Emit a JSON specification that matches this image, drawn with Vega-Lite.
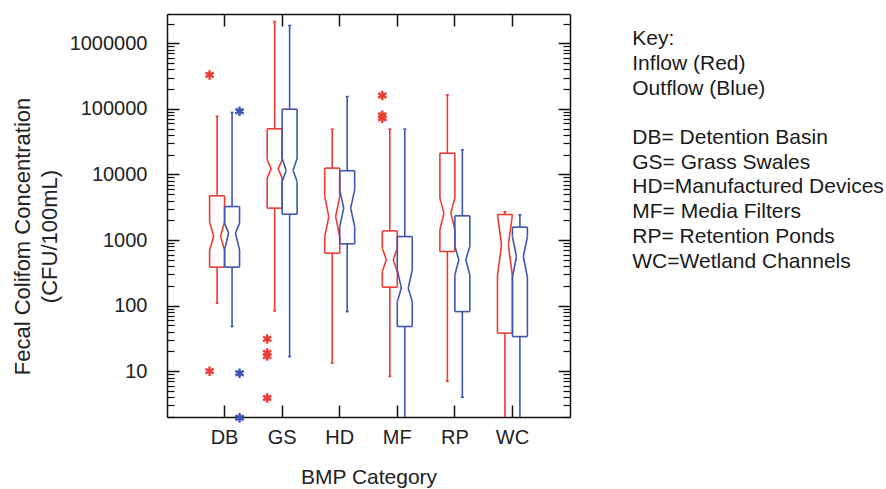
{
  "$schema": "https://vega.github.io/schema/vega-lite/v6.json",
  "autosize": "none",
  "width": 403,
  "height": 403,
  "padding": {"left": 167, "top": 14, "right": 316, "bottom": 72},
  "background": "white",
  "config": {"view": {"stroke": null}, "font": "Liberation Sans"},
  "title": {
    "text": ["Key:", "Inflow (Red)", "Outflow (Blue)", "\u200b", "DB= Detention Basin", "GS= Grass Swales", "HD=Manufactured Devices", "MF= Media Filters", "RP= Retention Ponds", "WC=Wetland Channels"],
    "orient": "right", "anchor": "start", "angle": 0, "align": "left", "baseline": "top",
    "offset": 62, "dx": -252, "dy": 15, "font": "Liberation Sans", "fontSize": 21, "fontWeight": "normal", "color": "#1a1a1a", "lineHeight": 24.7
  },
  "datasets": {
    "boxes": [
      {"cat": "DB", "flow": "Inflow", "lo": 109, "q1": 386, "nlo": 700, "med": 1130, "nhi": 1900, "q3": 4720, "hi": 77000},
      {"cat": "DB", "flow": "Outflow", "lo": 48, "q1": 386, "nlo": 708, "med": 1275, "nhi": 1810, "q3": 3240, "hi": 88000},
      {"cat": "GS", "flow": "Inflow", "lo": 83, "q1": 3065, "nlo": 8800, "med": 12200, "nhi": 16700, "q3": 49700, "hi": 2150000},
      {"cat": "GS", "flow": "Outflow", "lo": 16.7, "q1": 2480, "nlo": 7800, "med": 11500, "nhi": 17700, "q3": 99000, "hi": 1870000},
      {"cat": "HD", "flow": "Inflow", "lo": 13.3, "q1": 631, "nlo": 1130, "med": 2280, "nhi": 4600, "q3": 12500, "hi": 49000},
      {"cat": "HD", "flow": "Outflow", "lo": 81, "q1": 875, "nlo": 1607, "med": 3060, "nhi": 5830, "q3": 11400, "hi": 154000},
      {"cat": "MF", "flow": "Inflow", "lo": 8.3, "q1": 191, "nlo": 331, "med": 499, "nhi": 752, "q3": 1381, "hi": 49000},
      {"cat": "MF", "flow": "Outflow", "lo": 1, "q1": 48, "nlo": 115, "med": 185, "nhi": 351, "q3": 1130, "hi": 49000},
      {"cat": "RP", "flow": "Inflow", "lo": 7, "q1": 668, "nlo": 1432, "med": 2573, "nhi": 4350, "q3": 21100, "hi": 164000},
      {"cat": "RP", "flow": "Outflow", "lo": 4, "q1": 81, "nlo": 295, "med": 499, "nhi": 797, "q3": 2340, "hi": 23800},
      {"cat": "WC", "flow": "Inflow", "lo": 1, "q1": 38, "nlo": 280, "med": 850, "nhi": 2450, "q3": 2450, "hi": 2700},
      {"cat": "WC", "flow": "Outflow", "lo": 1, "q1": 33.7, "nlo": 272, "med": 561, "nhi": 1130, "q3": 1574, "hi": 2423}
    ],
    "outliers": [
      {"cat": "DB", "flow": "Inflow", "value": 330000},
      {"cat": "DB", "flow": "Inflow", "value": 10},
      {"cat": "DB", "flow": "Outflow", "value": 92000},
      {"cat": "DB", "flow": "Outflow", "value": 9.3},
      {"cat": "DB", "flow": "Outflow", "value": 1.95},
      {"cat": "GS", "flow": "Inflow", "value": 31},
      {"cat": "GS", "flow": "Inflow", "value": 19},
      {"cat": "GS", "flow": "Inflow", "value": 17},
      {"cat": "GS", "flow": "Inflow", "value": 3.9},
      {"cat": "MF", "flow": "Inflow", "value": 160000},
      {"cat": "MF", "flow": "Inflow", "value": 80000},
      {"cat": "MF", "flow": "Inflow", "value": 72000}
    ]
  },
  "data": {"name": "boxes"},
  "resolve": {"axis": {"x": "independent", "y": "independent"}},
  "layer": [
    {
      "transform": [{"filter": "datum.flow === 'Inflow'"}],
      "mark": {"type": "rule", "color": "#ee3b33", "strokeWidth": 1.6, "clip": true},
      "encoding": {
        "x": {"field": "cat", "type": "nominal", "bandPosition": 0.25,
          "scale": {"domain": ["DB", "GS", "HD", "MF", "RP", "WC"], "paddingInner": 0.48, "paddingOuter": 0.74},
          "axis": {"orient": "bottom", "title": "BMP Category", "bandPosition": 0.5, "tickSize": -12, "tickWidth": 1.5, "tickColor": "#111", "domainColor": "#111", "domainWidth": 1.5, "labelAngle": 0, "labelFont": "Liberation Sans", "labelFontSize": 20, "labelColor": "#222", "labelPadding": 22, "titleFont": "Liberation Sans", "titleFontSize": 21, "titleFontWeight": "normal", "titleColor": "#222", "titlePadding": 19, "grid": false}},
        "y": {"field": "lo", "type": "quantitative",
          "scale": {"type": "log", "domain": [2, 2800000], "nice": false},
          "axis": {"orient": "left", "values": [10, 100, 1000, 10000, 100000, 1000000], "format": "d", "tickSize": -12, "tickWidth": 1.5, "tickColor": "#111", "domainColor": "#111", "domainWidth": 1.5, "labelFont": "Liberation Sans", "labelFontSize": 20, "labelColor": "#222", "labelPadding": 32, "labelFlush": false, "labelOverlap": false, "grid": false,
            "title": ["Fecal Colifom Concentration", "(CFU/100mL)"], "titleFont": "Liberation Sans", "titleFontSize": 22, "titleFontWeight": "normal", "titleColor": "#222", "titlePadding": 8, "titleLineHeight": 27, "titleY": 222}},
        "y2": {"field": "q1"}
      }
    },
    {
      "transform": [{"filter": "datum.flow === 'Outflow'"}],
      "mark": {"type": "rule", "color": "#3f55b0", "strokeWidth": 1.6, "clip": true},
      "encoding": {
        "x": {"field": "cat", "type": "nominal", "bandPosition": 0.75,
          "axis": {"orient": "top", "title": null, "labels": false, "bandPosition": 0.5, "tickSize": -12, "tickWidth": 1.5, "tickColor": "#111", "domainColor": "#111", "domainWidth": 1.5, "grid": false}},
        "y": {"field": "lo", "type": "quantitative",
          "axis": {"orient": "left", "title": null, "labels": false, "domain": false, "grid": false, "tickSize": -7, "tickWidth": 1.2, "tickColor": "#111",
            "values": [2, 3, 4, 5, 6, 7, 8, 9, 20, 30, 40, 50, 60, 70, 80, 90, 200, 300, 400, 500, 600, 700, 800, 900, 2000, 3000, 4000, 5000, 6000, 7000, 8000, 9000, 20000, 30000, 40000, 50000, 60000, 70000, 80000, 90000, 200000, 300000, 400000, 500000, 600000, 700000, 800000, 900000, 2000000]}},
        "y2": {"field": "q1"}
      }
    },
    {
      "transform": [{"filter": "datum.flow === 'Inflow'"}],
      "mark": {"type": "rule", "color": "#ee3b33", "strokeWidth": 1.6, "clip": true},
      "encoding": {
        "x": {"field": "cat", "type": "nominal", "bandPosition": 0.25, "axis": null},
        "y": {"field": "q3", "type": "quantitative",
          "axis": {"orient": "right", "title": null, "labels": false, "values": [10, 100, 1000, 10000, 100000, 1000000], "tickSize": -12, "tickWidth": 1.5, "tickColor": "#111", "domainColor": "#111", "domainWidth": 1.5, "grid": false}},
        "y2": {"field": "hi"}
      }
    },
    {
      "transform": [{"filter": "datum.flow === 'Outflow'"}],
      "mark": {"type": "rule", "color": "#3f55b0", "strokeWidth": 1.6, "clip": true},
      "encoding": {
        "x": {"field": "cat", "type": "nominal", "bandPosition": 0.75, "axis": null},
        "y": {"field": "q3", "type": "quantitative",
          "axis": {"orient": "right", "title": null, "labels": false, "domain": false, "grid": false, "tickSize": -7, "tickWidth": 1.2, "tickColor": "#111",
            "values": [2, 3, 4, 5, 6, 7, 8, 9, 20, 30, 40, 50, 60, 70, 80, 90, 200, 300, 400, 500, 600, 700, 800, 900, 2000, 3000, 4000, 5000, 6000, 7000, 8000, 9000, 20000, 30000, 40000, 50000, 60000, 70000, 80000, 90000, 200000, 300000, 400000, 500000, 600000, 700000, 800000, 900000, 2000000]}},
        "y2": {"field": "hi"}
      }
    },
    {
      "transform": [{"filter": "datum.flow === 'Inflow'"}, {"fold": ["lo", "hi"], "as": ["k", "v"]}],
      "mark": {"type": "rule", "color": "#ee3b33", "strokeWidth": 1.6, "clip": true},
      "encoding": {
        "x": {"field": "cat", "type": "nominal", "bandPosition": 0.2, "axis": null},
        "x2": {"field": "cat", "bandPosition": 0.3},
        "y": {"field": "v", "type": "quantitative", "axis": null}
      }
    },
    {
      "transform": [{"filter": "datum.flow === 'Outflow'"}, {"fold": ["lo", "hi"], "as": ["k", "v"]}],
      "mark": {"type": "rule", "color": "#3f55b0", "strokeWidth": 1.6, "clip": true},
      "encoding": {
        "x": {"field": "cat", "type": "nominal", "bandPosition": 0.7, "axis": null},
        "x2": {"field": "cat", "bandPosition": 0.8},
        "y": {"field": "v", "type": "quantitative", "axis": null}
      }
    },
    {
      "transform": [{"filter": "datum.flow === 'Inflow'"}, {"fold": ["q1", "q3"], "as": ["k", "v"]}],
      "mark": {"type": "rule", "color": "#ee3b33", "strokeWidth": 1.6, "clip": true},
      "encoding": {
        "x": {"field": "cat", "type": "nominal", "bandPosition": 0, "axis": null},
        "x2": {"field": "cat", "bandPosition": 0.5},
        "y": {"field": "v", "type": "quantitative", "axis": null}
      }
    },
    {
      "transform": [{"filter": "datum.flow === 'Outflow'"}, {"fold": ["q1", "q3"], "as": ["k", "v"]}],
      "mark": {"type": "rule", "color": "#3f55b0", "strokeWidth": 1.6, "clip": true},
      "encoding": {
        "x": {"field": "cat", "type": "nominal", "bandPosition": 0.5, "axis": null},
        "x2": {"field": "cat", "bandPosition": 1},
        "y": {"field": "v", "type": "quantitative", "axis": null}
      }
    },
    {
      "transform": [{"filter": "datum.flow === 'Inflow'"}],
      "mark": {"type": "rule", "color": "#ee3b33", "strokeWidth": 1.6, "clip": true},
      "encoding": {
        "x": {"field": "cat", "type": "nominal", "bandPosition": 0, "axis": null},
        "y": {"field": "q1", "type": "quantitative", "axis": null},
        "y2": {"field": "nlo"}
      }
    },
    {
      "transform": [{"filter": "datum.flow === 'Inflow'"}],
      "mark": {"type": "rule", "color": "#ee3b33", "strokeWidth": 1.6, "clip": true},
      "encoding": {
        "x": {"field": "cat", "type": "nominal", "bandPosition": 0.5, "axis": null},
        "y": {"field": "q1", "type": "quantitative", "axis": null},
        "y2": {"field": "nlo"}
      }
    },
    {
      "transform": [{"filter": "datum.flow === 'Inflow'"}],
      "mark": {"type": "rule", "color": "#ee3b33", "strokeWidth": 1.6, "clip": true},
      "encoding": {
        "x": {"field": "cat", "type": "nominal", "bandPosition": 0, "axis": null},
        "y": {"field": "nhi", "type": "quantitative", "axis": null},
        "y2": {"field": "q3"}
      }
    },
    {
      "transform": [{"filter": "datum.flow === 'Inflow'"}],
      "mark": {"type": "rule", "color": "#ee3b33", "strokeWidth": 1.6, "clip": true},
      "encoding": {
        "x": {"field": "cat", "type": "nominal", "bandPosition": 0.5, "axis": null},
        "y": {"field": "nhi", "type": "quantitative", "axis": null},
        "y2": {"field": "q3"}
      }
    },
    {
      "transform": [{"filter": "datum.flow === 'Inflow'"}],
      "mark": {"type": "rule", "color": "#ee3b33", "strokeWidth": 1.6, "clip": true},
      "encoding": {
        "x": {"field": "cat", "type": "nominal", "bandPosition": 0, "axis": null},
        "x2": {"field": "cat", "bandPosition": 0.135},
        "y": {"field": "nlo", "type": "quantitative", "axis": null},
        "y2": {"field": "med"}
      }
    },
    {
      "transform": [{"filter": "datum.flow === 'Inflow'"}],
      "mark": {"type": "rule", "color": "#ee3b33", "strokeWidth": 1.6, "clip": true},
      "encoding": {
        "x": {"field": "cat", "type": "nominal", "bandPosition": 0.135, "axis": null},
        "x2": {"field": "cat", "bandPosition": 0},
        "y": {"field": "med", "type": "quantitative", "axis": null},
        "y2": {"field": "nhi"}
      }
    },
    {
      "transform": [{"filter": "datum.flow === 'Inflow'"}],
      "mark": {"type": "rule", "color": "#ee3b33", "strokeWidth": 1.6, "clip": true},
      "encoding": {
        "x": {"field": "cat", "type": "nominal", "bandPosition": 0.5, "axis": null},
        "x2": {"field": "cat", "bandPosition": 0.365},
        "y": {"field": "nlo", "type": "quantitative", "axis": null},
        "y2": {"field": "med"}
      }
    },
    {
      "transform": [{"filter": "datum.flow === 'Inflow'"}],
      "mark": {"type": "rule", "color": "#ee3b33", "strokeWidth": 1.6, "clip": true},
      "encoding": {
        "x": {"field": "cat", "type": "nominal", "bandPosition": 0.365, "axis": null},
        "x2": {"field": "cat", "bandPosition": 0.5},
        "y": {"field": "med", "type": "quantitative", "axis": null},
        "y2": {"field": "nhi"}
      }
    },
    {
      "transform": [{"filter": "datum.flow === 'Outflow'"}],
      "mark": {"type": "rule", "color": "#3f55b0", "strokeWidth": 1.6, "clip": true},
      "encoding": {
        "x": {"field": "cat", "type": "nominal", "bandPosition": 0.5, "axis": null},
        "y": {"field": "q1", "type": "quantitative", "axis": null},
        "y2": {"field": "nlo"}
      }
    },
    {
      "transform": [{"filter": "datum.flow === 'Outflow'"}],
      "mark": {"type": "rule", "color": "#3f55b0", "strokeWidth": 1.6, "clip": true},
      "encoding": {
        "x": {"field": "cat", "type": "nominal", "bandPosition": 1, "axis": null},
        "y": {"field": "q1", "type": "quantitative", "axis": null},
        "y2": {"field": "nlo"}
      }
    },
    {
      "transform": [{"filter": "datum.flow === 'Outflow'"}],
      "mark": {"type": "rule", "color": "#3f55b0", "strokeWidth": 1.6, "clip": true},
      "encoding": {
        "x": {"field": "cat", "type": "nominal", "bandPosition": 0.5, "axis": null},
        "y": {"field": "nhi", "type": "quantitative", "axis": null},
        "y2": {"field": "q3"}
      }
    },
    {
      "transform": [{"filter": "datum.flow === 'Outflow'"}],
      "mark": {"type": "rule", "color": "#3f55b0", "strokeWidth": 1.6, "clip": true},
      "encoding": {
        "x": {"field": "cat", "type": "nominal", "bandPosition": 1, "axis": null},
        "y": {"field": "nhi", "type": "quantitative", "axis": null},
        "y2": {"field": "q3"}
      }
    },
    {
      "transform": [{"filter": "datum.flow === 'Outflow'"}],
      "mark": {"type": "rule", "color": "#3f55b0", "strokeWidth": 1.6, "clip": true},
      "encoding": {
        "x": {"field": "cat", "type": "nominal", "bandPosition": 0.5, "axis": null},
        "x2": {"field": "cat", "bandPosition": 0.635},
        "y": {"field": "nlo", "type": "quantitative", "axis": null},
        "y2": {"field": "med"}
      }
    },
    {
      "transform": [{"filter": "datum.flow === 'Outflow'"}],
      "mark": {"type": "rule", "color": "#3f55b0", "strokeWidth": 1.6, "clip": true},
      "encoding": {
        "x": {"field": "cat", "type": "nominal", "bandPosition": 0.635, "axis": null},
        "x2": {"field": "cat", "bandPosition": 0.5},
        "y": {"field": "med", "type": "quantitative", "axis": null},
        "y2": {"field": "nhi"}
      }
    },
    {
      "transform": [{"filter": "datum.flow === 'Outflow'"}],
      "mark": {"type": "rule", "color": "#3f55b0", "strokeWidth": 1.6, "clip": true},
      "encoding": {
        "x": {"field": "cat", "type": "nominal", "bandPosition": 1, "axis": null},
        "x2": {"field": "cat", "bandPosition": 0.865},
        "y": {"field": "nlo", "type": "quantitative", "axis": null},
        "y2": {"field": "med"}
      }
    },
    {
      "transform": [{"filter": "datum.flow === 'Outflow'"}],
      "mark": {"type": "rule", "color": "#3f55b0", "strokeWidth": 1.6, "clip": true},
      "encoding": {
        "x": {"field": "cat", "type": "nominal", "bandPosition": 0.865, "axis": null},
        "x2": {"field": "cat", "bandPosition": 1},
        "y": {"field": "med", "type": "quantitative", "axis": null},
        "y2": {"field": "nhi"}
      }
    },
    {
      "data": {"name": "outliers"},
      "mark": {"type": "point", "shape": "M0,-1L0,1M-0.87,-0.5L0.87,0.5M-0.87,0.5L0.87,-0.5", "filled": false, "size": 90, "strokeWidth": 2.4, "opacity": 1},
      "encoding": {
        "x": {"field": "cat", "type": "nominal", "axis": null},
        "xOffset": {"field": "flow", "type": "nominal", "scale": {"domain": ["Inflow", "Outflow"], "paddingInner": 0, "paddingOuter": 0}},
        "y": {"field": "value", "type": "quantitative", "axis": null},
        "color": {"field": "flow", "type": "nominal", "scale": {"domain": ["Inflow", "Outflow"], "range": ["#ee3b33", "#3f55b0"]}, "legend": null}
      }
    }
  ]
}
